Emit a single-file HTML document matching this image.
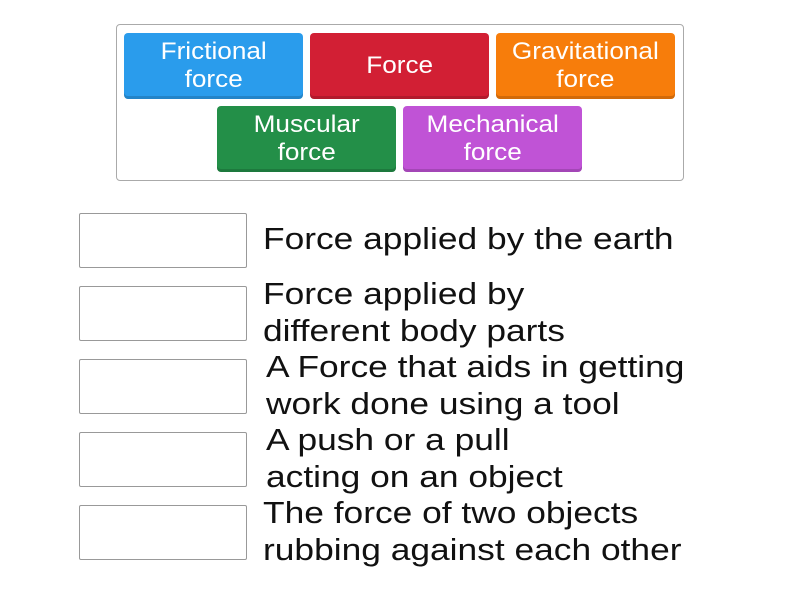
<!DOCTYPE html>
<html><head><style>
body{margin:0;width:800px;height:600px;background:#fff;position:relative;font-family:"Liberation Sans","DejaVu Sans",sans-serif;overflow:hidden}
.outer{position:absolute;left:116px;top:24px;width:566px;height:155px;border:1px solid #aaa;border-radius:4px}
.t{position:absolute;width:179px;height:66px;border-radius:4px;color:#fff;font-size:24px;line-height:28px;text-align:center;display:flex;align-items:center;justify-content:center;box-shadow:inset 0 -3px 0 rgba(0,0,0,.15)}
.t span{display:inline-block;transform:scaleX(1.09)}
.b{position:absolute;left:79px;width:166px;height:53px;border:1px solid #999;border-radius:2px}
.x{position:absolute;left:263px;font-size:31px;line-height:37px;color:#111;transform:scaleX(1.14);transform-origin:left top;white-space:nowrap}
</style></head><body>
<div class="outer"></div>
<div class="t" style="left:124px;top:33px;background:#2a9cec"><span>Frictional<br>force</span></div>
<div class="t" style="left:310px;top:33px;background:#d21f34"><span>Force</span></div>
<div class="t" style="left:496px;top:33px;background:#f77d0b"><span>Gravitational<br>force</span></div>
<div class="t" style="left:217px;top:106px;background:#238f48"><span>Muscular<br>force</span></div>
<div class="t" style="left:403px;top:106px;background:#c053d6"><span>Mechanical<br>force</span></div>
<div class="b" style="top:213px"></div>
<div class="b" style="top:286px"></div>
<div class="b" style="top:359px"></div>
<div class="b" style="top:432px"></div>
<div class="b" style="top:505px"></div>
<div class="x" style="top:220px">Force applied by the earth</div>
<div class="x" style="top:275px">Force applied by<br>different body parts</div>
<div class="x" style="top:348px;left:266px">A Force that aids in getting<br>work done using a tool</div>
<div class="x" style="top:421px;left:266px">A push or a pull<br>acting on an object</div>
<div class="x" style="top:494px">The force of two objects<br>rubbing against each other</div>
</body></html>
